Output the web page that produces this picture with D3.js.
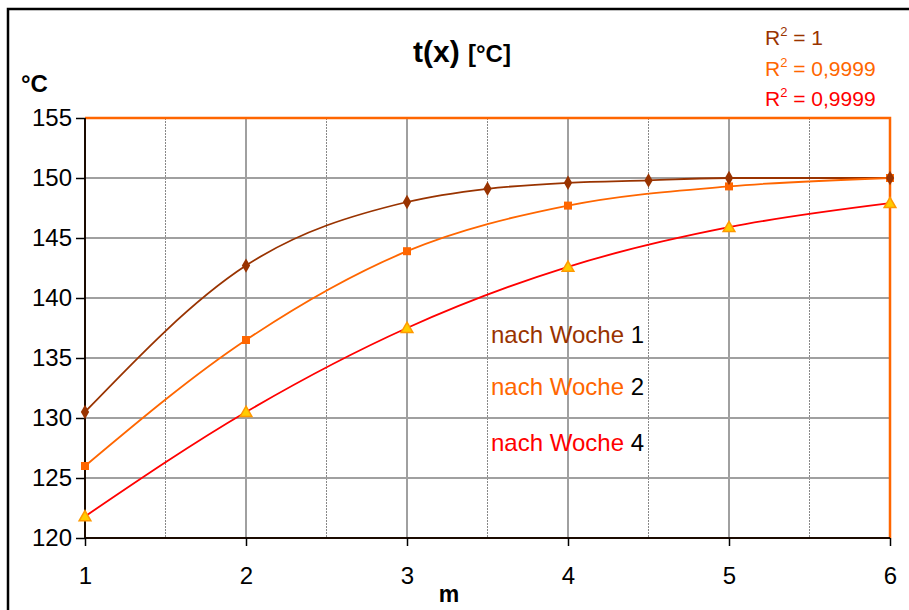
<!DOCTYPE html>
<html>
<head>
<meta charset="utf-8">
<script src="https://cdn.jsdelivr.net/npm/d3@7"></script>
<style>
	body { margin: 0; background: #fff; }
	svg text { font-family: "Liberation Sans", Arial, sans-serif; }
</style>
</head>
<body>
<div class="container"></div>
<script>
var xTicks = [1, 2, 3, 4, 5, 6];
var yTicks = [120, 125, 130, 135, 140, 145, 150, 155];

var week1X = [1, 2, 3, 3.5, 4, 4.5, 5, 6];
var week1Y = [130.5, 142.7, 148.0, 149.1, 149.6, 149.8, 150.0, 150.0];
var week2X = [1, 2, 3, 4, 5, 6];
var week2Y = [126.0, 136.5, 143.9, 147.7, 149.3, 150.0];
var week4X = [1, 2, 3, 4, 5, 6];
var week4Y = [121.8, 130.5, 137.5, 142.6, 145.9, 147.9];

var seriesNames = ["nach Woche 1", "nach Woche 2", "nach Woche 4"];
var rSquared = ["1", "0,9999", "0,9999"];

var charter = function () {
	var width = 909, height = 610;
	var left = 85, right = 890, top = 118, bottom = 538;
	var colors = ["#993300", "#FF6600", "#FF0000"];
	var labelBase = [343, 395, 451];

	var init = function () {
		var paper = d3.select('.container').append("svg")
			.attr("width", width)
			.attr("height", height);

		// outer chart frame (runs off the right and bottom edge)
		paper.append('rect')
			.attr('x', 8).attr('y', 9)
			.attr('width', 1000).attr('height', 1000)
			.attr('fill', 'none').attr('stroke', '#000').attr('stroke-width', 2.5);

		var x = d3.scaleLinear().domain([1, 6]).range([left, right]);
		var y = d3.scaleLinear().domain([120, 155]).range([bottom, top]);

		// minor vertical grid
		paper.selectAll('.minor').data(d3.range(1.5, 6, 1)).enter().append('line')
			.attr('x1', function (d) { return x(d); }).attr('x2', function (d) { return x(d); })
			.attr('y1', top).attr('y2', bottom)
			.attr('stroke', '#555').attr('stroke-width', 0.7).attr('stroke-dasharray', '2,1');

		// major grid
		paper.selectAll('.vgrid').data(xTicks.slice(1, -1)).enter().append('line')
			.attr('x1', function (d) { return x(d); }).attr('x2', function (d) { return x(d); })
			.attr('y1', top).attr('y2', bottom)
			.attr('stroke', '#a0a0a0').attr('stroke-width', 2);
		paper.selectAll('.hgrid').data(yTicks.slice(1, -1)).enter().append('line')
			.attr('x1', left).attr('x2', right)
			.attr('y1', function (d) { return y(d); }).attr('y2', function (d) { return y(d); })
			.attr('stroke', '#a0a0a0').attr('stroke-width', 2);

		// plot area border (top, right)
		paper.append('path')
			.attr('d', 'M' + left + ',' + top + 'H' + right + 'V' + bottom)
			.attr('fill', 'none').attr('stroke', '#FF6600').attr('stroke-width', 2.5);

		// axes
		var yAxis = paper.append('g').attr('transform', 'translate(' + left + ',0)')
			.call(d3.axisLeft(y).tickValues(yTicks).tickSize(9).tickPadding(13));
		var xAxis = paper.append('g').attr('transform', 'translate(0,' + bottom + ')')
			.call(d3.axisBottom(x).tickValues(xTicks).tickFormat(d3.format('d')).tickSize(8).tickPadding(21));
		[xAxis, yAxis].forEach(function (a) {
			a.select('.domain').attr('stroke', '#1a0a00').attr('stroke-width', 2);
			a.selectAll('.tick line').attr('stroke', '#000').attr('stroke-width', 1.5);
			a.selectAll('.tick text').attr('font-size', 24).attr('fill', '#000')
				.style('font-family', '"Liberation Sans", Arial, sans-serif');
		});
		yAxis.selectAll('.tick text').attr('x', -13);
		xAxis.select('.domain').attr('d', 'M' + left + ',0H' + right);
		yAxis.select('.domain').attr('d', 'M0,' + top + 'V' + bottom);

		// lines
		var sets = [[week1X, week1Y], [week2X, week2Y], [week4X, week4Y]];
		var line = d3.line()
			.x(function (d) { return x(d[0]); })
			.y(function (d) { return y(d[1]); })
			.curve(d3.curveMonotoneX);
		sets.forEach(function (s, i) {
			paper.append('path')
				.datum(d3.zip(s[0], s[1]))
				.attr('d', line)
				.attr('fill', 'none').attr('stroke', colors[i]).attr('stroke-width', 1.8);
		});

		// markers
		paper.selectAll('.tri').data(d3.zip(week4X, week4Y)).enter().append('path')
			.attr('d', d3.symbol().type(d3.symbolTriangle).size(60))
			.attr('transform', function (d) { return 'translate(' + x(d[0]) + ',' + (y(d[1]) + 1) + ')'; })
			.attr('fill', '#FFCC00').attr('stroke', '#FF9900').attr('stroke-width', 1.5);
		paper.selectAll('.sq').data(d3.zip(week2X, week2Y)).enter().append('rect')
			.attr('x', function (d) { return x(d[0]) - 4; })
			.attr('y', function (d) { return y(d[1]) - 4; })
			.attr('width', 8).attr('height', 8)
			.attr('fill', '#FF6600');
		paper.selectAll('.dia').data(d3.zip(week1X, week1Y)).enter().append('path')
			.attr('d', d3.symbol().type(d3.symbolDiamond).size(60))
			.attr('transform', function (d) { return 'translate(' + x(d[0]) + ',' + y(d[1]) + ')'; })
			.attr('fill', '#993300');

		// titles
		var title = paper.append('text').attr('x', 413).attr('y', 62)
			.attr('font-weight', 'bold').attr('fill', '#000');
		title.append('tspan').attr('font-size', 30).text('t(x) ');
		title.append('tspan').attr('font-size', 24).text('[°C]');

		paper.append('text').attr('x', 21).attr('y', 92)
			.attr('font-weight', 'bold').attr('font-size', 24).text('°C');
		paper.append('text').attr('x', 449).attr('y', 602)
			.attr('font-weight', 'bold').attr('font-size', 23).attr('text-anchor', 'middle').text('m');

		// R² labels
		rSquared.forEach(function (r, i) {
			var t = paper.append('text').attr('x', 765).attr('y', 45 + i * 30.5)
				.attr('font-size', 21).attr('fill', colors[i]);
			t.append('tspan').text('R');
			t.append('tspan').attr('font-size', 13).attr('dy', -9).text('2');
			t.append('tspan').attr('dy', 9).text(' = ' + r);
		});

		// series labels
		seriesNames.forEach(function (n, i) {
			var parts = n.split(' ');
			var t = paper.append('text').attr('x', 491).attr('y', labelBase[i])
				.attr('font-size', 24);
			t.append('tspan').attr('fill', colors[i]).text(parts[0] + ' ' + parts[1] + ' ');
			t.append('tspan').attr('fill', '#000').text(parts[2]);
		});
	};

	return Object.freeze({ init: init });
};

var c = charter();
c.init();
</script>
</body>
</html>
